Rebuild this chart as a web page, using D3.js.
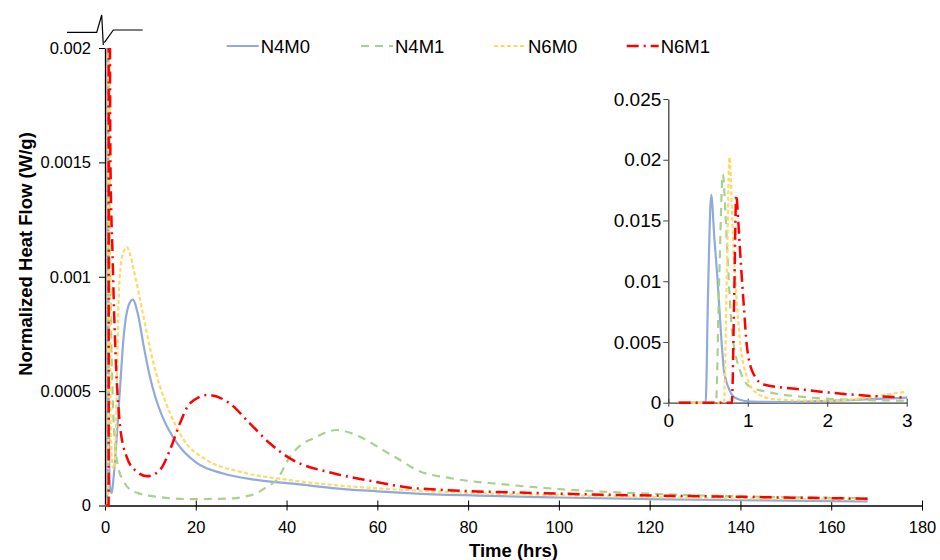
<!DOCTYPE html>
<html>
<head>
<meta charset="utf-8">
<script src="https://cdn.jsdelivr.net/npm/d3@7"></script>
<style>
  body { margin: 0; background: #fff; }
  svg { display: block; font-family: "Liberation Sans", Arial, sans-serif; }
  .axis text { fill: #000; }
</style>
</head>
<body>
<svg id="chart" width="940" height="560"></svg>
<script>
// Heat flow readings, [time (hrs), W/g]
const n4m0 = [
  [0.13, 0], [0.47, 0], [0.5, 0.009], [0.54, 0.0171], [0.58, 0.0135], [0.62, 0.0101],
  [0.66, 0.006], [0.7, 0.0027], [0.76, 0.0012], [0.82, 0.0005], [0.9, 0.00025],
  [1.0, 0.00012], [1.2, 0.00007], [1.48, 0.000055], [1.83, 0.00011], [2.4, 0.00025],
  [2.93, 0.0004], [3.5, 0.00057], [4.03, 0.00072], [5.13, 0.00087], [6.1, 0.0009],
  [7.33, 0.00083], [8.5, 0.0007], [9.7, 0.00058], [11, 0.00048], [12.84, 0.00038],
  [15.79, 0.000275], [20.2, 0.000186], [26.06, 0.00014], [33.41, 0.000112], [42.95, 0.000092],
  [50, 0.000076], [60, 0.000062], [68.7, 0.000052], [85, 0.000042], [100, 0.000035],
  [120, 0.000028], [140, 0.000023], [168, 0.000018]
];
const n4m1 = [
  [0.13, 0], [0.6, 0], [0.64, 0.01], [0.686, 0.0188], [0.72, 0.0155], [0.74, 0.0128],
  [0.77, 0.009], [0.8, 0.006], [0.9, 0.0027], [1.03, 0.0013], [1.24, 0.0009], [1.66, 0.0005],
  [2.08, 0.0003], [3, 0.00016], [4, 0.00011], [5.5, 0.00007], [8, 0.00005], [11.4, 0.000038],
  [18.7, 0.000028], [28.3, 0.000031], [31, 0.00004], [33.4, 0.000053], [35.5, 0.00008],
  [37.8, 0.000111], [40.75, 0.000213], [43.5, 0.00027], [45.9, 0.000293], [48.5, 0.000318],
  [51, 0.00033], [54, 0.000318], [57.6, 0.000286], [61, 0.000245], [65, 0.000199],
  [68.7, 0.000155], [76, 0.00012], [88, 0.000092], [100, 0.000072], [122, 0.00005],
  [145, 0.000038], [168, 0.000032]
];
const n6m0 = [
  [0.13, 0], [0.7, 0], [0.735, 0.01], [0.77, 0.0202], [0.8, 0.016], [0.82, 0.0128],
  [0.86, 0.0085], [0.9, 0.0052], [0.99, 0.0021], [1.11, 0.0008], [1.32, 0.0003],
  [1.7, 0.00017], [2.08, 0.00016], [2.35, 0.0003], [2.59, 0.0005], [3, 0.0009],
  [3.5, 0.00105], [4.1, 0.00111], [4.78, 0.00113], [5.5, 0.0011], [6.23, 0.00104],
  [8.44, 0.00083], [10, 0.00068], [11.5, 0.00056], [13.59, 0.00044], [17.25, 0.00029],
  [22.4, 0.000199], [29.7, 0.000148], [40.75, 0.000111], [50, 0.00009], [60, 0.000075],
  [70, 0.000064], [85, 0.000052], [100, 0.000045], [120, 0.000037], [140, 0.000031],
  [168, 0.000026]
];
const n6m1 = [
  [0.13, 0], [0.8, 0], [0.83, 0.009], [0.855, 0.0171], [0.88, 0.015], [0.9, 0.0128],
  [0.95, 0.008], [0.99, 0.0046], [1.07, 0.0024], [1.2, 0.0015], [1.66, 0.0011],
  [2.08, 0.0008], [2.5, 0.00058], [3, 0.00042], [3.3, 0.00035], [4.78, 0.000213],
  [6.98, 0.000148], [9.3, 0.000128], [12.1, 0.000155], [14.3, 0.000242], [16.5, 0.000359],
  [18.7, 0.000446], [22.75, 0.000483], [27.5, 0.000446], [31.9, 0.000359], [36.3, 0.000272],
  [40.75, 0.000206], [50.3, 0.000141], [57.6, 0.000111], [68.7, 0.000075], [100, 0.000052],
  [140, 0.000038], [168, 0.00003]
];

const seriesNames = ["N4M0", "N4M1", "N6M0", "N6M1"];
const xTicks = [0, 20, 40, 60, 80, 100, 120, 140, 160, 180];
const yTicks = [0, 0.0005, 0.001, 0.0015, 0.002];
const insetXTicks = [0, 1, 2, 3];
const insetYTicks = [0, 0.005, 0.01, 0.015, 0.02, 0.025];

// Line styles per series (Excel-like)
const styles = {
  N4M0: { color: "#8faadc", dash: null, width: 2.2 },
  N4M1: { color: "#a9d18e", dash: "8,6", width: 2.2 },
  N6M0: { color: "#ffd966", dash: "4,2.5", width: 2.2 },
  N6M1: { color: "#ff0000", dash: "12,5,2,5", width: 2.5 }
};

const series = [n4m0, n4m1, n6m0, n6m1].map((values, i) => ({ name: seriesNames[i], values }));

const svg = d3.select("#chart");

// Main chart scales
const x = d3.scaleLinear().domain([0, 180]).range([105, 922]);
const y = d3.scaleLinear().domain([0, 0.002]).range([505.5, 48]);

// Inset scales
const ix = d3.scaleLinear().domain([0, 3]).range([668.3, 906.7]);
const iy = d3.scaleLinear().domain([0, 0.025]).range([402.7, 99]);

const defs = svg.append("defs");
defs.append("clipPath").attr("id", "mainClip")
  .append("rect").attr("x", 100).attr("y", y(0.002))
  .attr("width", 830).attr("height", y(0) - y(0.002) + 5);
defs.append("clipPath").attr("id", "insetClip")
  .append("rect").attr("x", ix(0)).attr("y", iy(0.025) - 2)
  .attr("width", ix(3) - ix(0)).attr("height", iy(0) - iy(0.025) + 5);

function styleLine(sel) {
  sel.attr("fill", "none")
    .attr("stroke", (d) => styles[d.name].color)
    .attr("stroke-width", (d) => styles[d.name].width)
    .attr("stroke-dasharray", (d) => styles[d.name].dash)
    .attr("stroke-linejoin", "round");
}

// ---- Main chart axes ----
const xAxis = d3.axisBottom(x).tickValues(xTicks).tickFormat(d3.format("d"))
  .tickSizeInner(5).tickSizeOuter(0);
const xAxisG = svg.append("g").attr("class", "axis")
  .attr("transform", `translate(0,${y(0)})`).call(xAxis);
xAxisG.selectAll(".tick line").attr("y1", -5).attr("y2", 5).attr("stroke", "#000");
xAxisG.selectAll("text").attr("y", 27.5).attr("dy", 0)
  .style("font-size", "16.5px");
xAxisG.select(".domain").attr("stroke", "#000").attr("stroke-width", 1.3);

const yAxis = d3.axisLeft(y).tickValues(yTicks).tickFormat((d) => (d === 0 ? "0" : String(+d.toFixed(4))))
  .tickSizeInner(6).tickSizeOuter(0).tickPadding(8);
const yAxisG = svg.append("g").attr("class", "axis")
  .attr("transform", `translate(${x(0)},0)`).call(yAxis);
yAxisG.selectAll("text").style("font-size", "16.5px");
yAxisG.selectAll(".tick line").attr("stroke", "#000");
yAxisG.select(".domain").attr("stroke", "#000").attr("stroke-width", 1.3);

// Main lines, clipped at the top of the axis
svg.append("g").attr("clip-path", "url(#mainClip)")
  .selectAll("path").data(series).join("path")
  .attr("d", (d) => d3.line().x((p) => x(p[0])).y((p) => y(p[1])).curve(d3.curveMonotoneX)(d.values))
  .call(styleLine);

// Axis break mark above the y-axis
svg.append("path")
  .attr("d", "M67,32.3 L96.7,32.3 L101.7,15 L103.3,45 M104.3,42.7 L113.3,30 L142.7,30")
  .attr("fill", "none").attr("stroke", "#000").attr("stroke-width", 1.2);

// Axis titles
svg.append("text")
  .attr("x", (x(0) + x(180)) / 2).attr("y", 557)
  .attr("text-anchor", "middle")
  .style("font-size", "18.5px").style("font-weight", "bold")
  .text("Time (hrs)");

svg.append("text")
  .attr("transform", "translate(32,254) rotate(-90)")
  .attr("text-anchor", "middle")
  .style("font-size", "18.5px").style("font-weight", "bold")
  .text("Normalized Heat Flow (W/g)");

// ---- Legend ----
const legendX = [226.7, 361, 494, 626.7];
const legend = svg.append("g").selectAll("g")
  .data(series).join("g")
  .attr("transform", (d, i) => `translate(${legendX[i]},46)`);
legend.append("line")
  .attr("x1", 0).attr("x2", 32).attr("y1", 0).attr("y2", 0)
  .call(styleLine);
legend.append("text")
  .attr("x", 34).attr("y", 6.5)
  .style("font-size", "18.5px")
  .text((d) => d.name);

// ---- Inset (first 3 hours) ----
const ixAxis = d3.axisBottom(ix).tickValues(insetXTicks).tickFormat(d3.format("d"))
  .tickSizeInner(4).tickSizeOuter(0);
const ixAxisG = svg.append("g").attr("class", "axis")
  .attr("transform", `translate(0,${iy(0)})`).call(ixAxis);
ixAxisG.selectAll(".tick line").attr("y1", -4).attr("y2", 4).attr("stroke", "#404040");
ixAxisG.selectAll("text").attr("y", 24.5).attr("dy", 0).style("font-size", "19px");
ixAxisG.select(".domain").attr("stroke", "#404040").attr("stroke-width", 1.3);

const iyAxis = d3.axisLeft(iy).tickValues(insetYTicks).tickFormat((d) => (d === 0 ? "0" : String(+d.toFixed(3))))
  .tickSizeInner(5).tickSizeOuter(0).tickPadding(2);
const iyAxisG = svg.append("g").attr("class", "axis")
  .attr("transform", `translate(${ix(0)},0)`).call(iyAxis);
iyAxisG.selectAll("text").style("font-size", "19px");
iyAxisG.selectAll(".tick line").attr("stroke", "#404040");
iyAxisG.select(".domain").attr("stroke", "#404040").attr("stroke-width", 1.3);

svg.append("g").attr("clip-path", "url(#insetClip)")
  .selectAll("path").data(series).join("path")
  .attr("d", (d) => d3.line().x((p) => ix(p[0])).y((p) => iy(p[1])).curve(d3.curveMonotoneX)(d.values))
  .call(styleLine);
</script>
</body>
</html>
